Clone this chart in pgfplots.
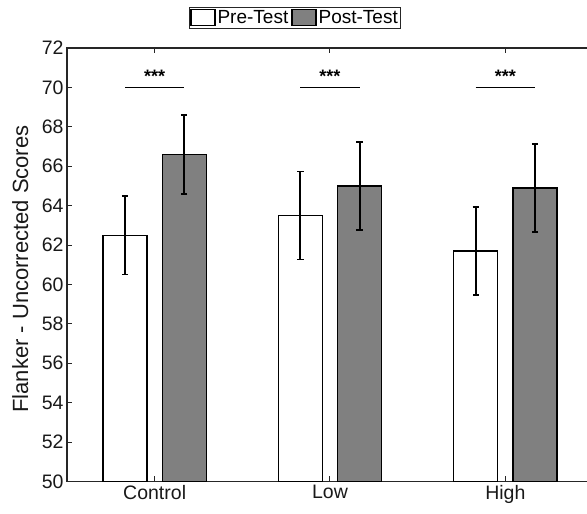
\documentclass[border=0pt]{standalone}
\usepackage{fontspec}
\setmainfont{Liberation Sans}
\usepackage{pgfplots}
\pgfplotsset{compat=1.18}
\definecolor{bargray}{gray}{0.5}
\definecolor{axgray}{gray}{0.15}
\begin{document}
\begin{tikzpicture}[x=1pt,y=1pt]
\begin{axis}[
  at={(0,0)}, anchor=south west,
  scale only axis, width=526pt, height=433.5pt,
  xmin=0.5, xmax=3.5, ymin=50, ymax=72,
  xtick={1,2,3}, xticklabels={Control,Low,High},
  ytick={50,52,...,72},
  tick align=inside, major tick length=5pt,
  tick style={line width=1pt, axgray},
  axis line style={line width=1.2pt, axgray},
  ticklabel style={font=\fontsize{19.5}{19.5}\selectfont, text=black!90},
  /pgf/number format/assume math mode=true,
  ylabel={Flanker - Uncorrected Scores},
  every axis y label/.style={at={(axis description cs:-0.089,0.49)}, rotate=90, anchor=center,
    font=\fontsize{22}{22}\selectfont, text=black!90},
  bar width=0.25,
  legend columns=2,
  legend style={at={(axis description cs:0.4335,1.07)}, anchor=center, draw=axgray,
    line width=0.8pt, inner sep=1pt, font=\fontsize{19}{19}\selectfont,
    /tikz/every even column/.append style={column sep=1pt}},
  legend image code/.code={\draw[#1, line width=1.3pt] (0pt,-8pt) rectangle (24pt,8pt);},
]
\addplot[ybar, bar shift=0pt, fill=white, draw=black, line width=1.3pt,
  error bars/.cd, y dir=both, y explicit, error mark=|,
  error bar style={line width=1.8pt, black},
  error mark options={line width=1.8pt, mark size=3.2pt, black}]
  coordinates {(0.831,62.5) +- (0,2.0) (1.831,63.5) +- (0,2.23) (2.831,61.7) +- (0,2.22)};
\addlegendentry{Pre-Test}
\addplot[ybar, bar shift=0pt, fill=bargray, draw=black, line width=1.3pt,
  error bars/.cd, y dir=both, y explicit, error mark=|,
  error bar style={line width=1.8pt, black},
  error mark options={line width=1.8pt, mark size=3.2pt, black}]
  coordinates {(1.169,66.6) +- (0,2.0) (2.169,65.0) +- (0,2.22) (3.169,64.9) +- (0,2.23)};
\addlegendentry{Post-Test}
\pgfplotsinvokeforeach{1,2,3}{
  \draw[line width=1.6pt, black] (axis cs:#1-0.169,70) -- (axis cs:#1+0.169,70);
  \node[anchor=base, font=\fontsize{18}{18}\selectfont\bfseries, inner sep=0pt] at (axis cs:#1,70.27) {***};
}
\end{axis}
\pgfresetboundingbox
\useasboundingbox (-67,-32) rectangle (520,481.5);
\end{tikzpicture}
\end{document}
